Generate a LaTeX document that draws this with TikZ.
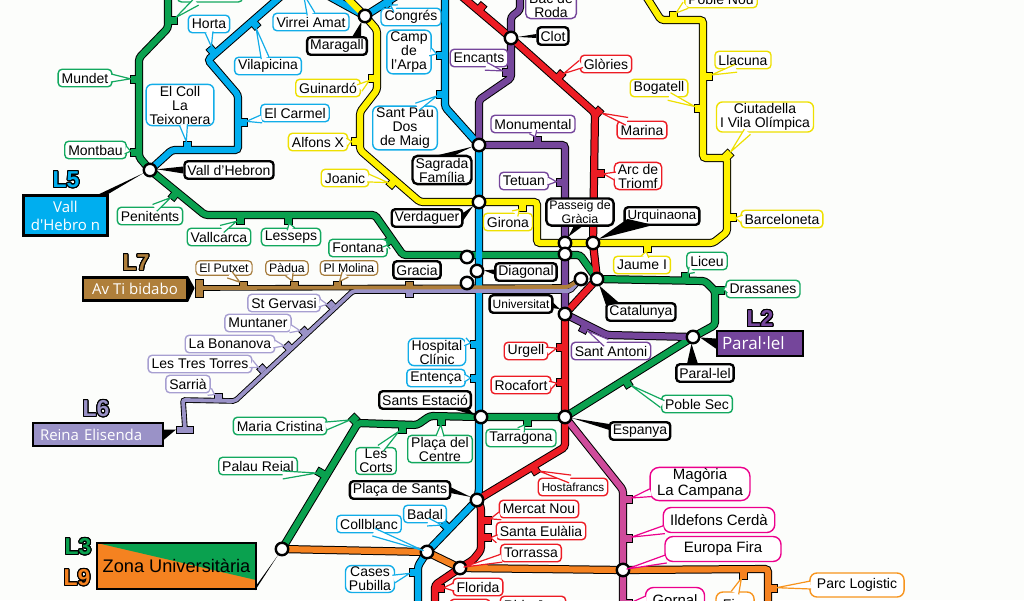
\documentclass[tikz,border=0pt]{standalone}
\usepackage{fontspec}
\usepackage{contour}
\usetikzlibrary{calc}
\setmainfont{Liberation Sans}
\newfontfamily\termfont{Open Sans}
\contourlength{1pt}
\contournumber{24}

\definecolor{paper}{HTML}{FCFDFB}
\definecolor{lthree}{HTML}{0AA14F}
\definecolor{lfive}{HTML}{00AEEF}
\definecolor{lfour}{HTML}{FFF200}
\definecolor{lone}{HTML}{ED1C24}
\definecolor{ltwo}{HTML}{75469B}
\definecolor{lsix}{HTML}{9A92C7}
\definecolor{lseven}{HTML}{AF7F3B}
\definecolor{lnine}{HTML}{F58220}
\definecolor{leight}{HTML}{CF4B9B}
\definecolor{rthree}{HTML}{13A85F}
\definecolor{rfive}{HTML}{12ADE8}
\definecolor{rfour}{HTML}{EEE000}
\definecolor{rsix}{HTML}{A79FD1}
\definecolor{rseven}{HTML}{A67C3D}
\definecolor{rnine}{HTML}{F7941D}
\definecolor{reight}{HTML}{EC008C}

\pgfdeclarelayer{casing}
\pgfdeclarelayer{ticks}
\pgfdeclarelayer{core}
\pgfsetlayers{casing,ticks,core,main}

\tikzset{
	stn/.style={draw, fill=white, line width=1.4pt, rounded corners=4pt, inner xsep=3.5pt, inner ysep=1.5pt,
		minimum height=17.5pt, align=center, font=\fontsize{14}{14}\selectfont},
	stnthree/.style={stn, draw=rthree},
	stnfive/.style={stn, draw=rfive},
	stnfour/.style={stn, draw=rfour},
	stnone/.style={stn, draw=lone},
	stntwo/.style={stn, draw=ltwo},
	stnsix/.style={stn, draw=rsix},
	stnseven/.style={stn, draw=rseven, line width=1.2pt, minimum height=14.5pt, font=\fontsize{12.3}{13}\selectfont},
	stnnine/.style={stn, draw=rnine, rounded corners=7pt, inner xsep=7pt, minimum height=24pt, font=\fontsize{14}{16}\selectfont},
	stneight/.style={stn, draw=reight, rounded corners=8pt, inner xsep=7pt, minimum height=25pt, font=\fontsize{15}{16}\selectfont},
	hub/.style={stn, draw=black, line width=2.4pt, rounded corners=3.5pt, inner xsep=3pt, inner ysep=2pt},
	term/.style={draw=black, line width=2.4pt, text=white, font=\termfont\fontsize{15}{18}\selectfont, align=center, inner sep=0pt},
	linename/.style={font=\fontsize{23}{24}\selectfont\bfseries},
	change/.style={circle, draw=black, fill=white, line width=2.4pt, minimum size=12.5pt, inner sep=0pt},
	tick/.style={rectangle, draw=black, line width=.8pt, minimum width=8pt, minimum height=9pt, inner sep=0pt},
	tickthin/.style={tick, minimum height=7pt},
	casing/.style={draw=black, line width=8.2pt, rounded corners=3pt},
	core/.style={line width=6.2pt, rounded corners=3pt},
	casingthin/.style={draw=black, line width=5.6pt, rounded corners=2pt},
	corethin/.style={line width=3.8pt, rounded corners=2pt},
}

% line body: black casing below, colour on top, ticks in between
\newcommand{\route}[2]{%
	\begin{pgfonlayer}{casing}\draw[casing] #2;\end{pgfonlayer}
	\begin{pgfonlayer}{core}\draw[core, draw=#1] #2;\end{pgfonlayer}}
\newcommand{\routethin}[2]{%
	\begin{pgfonlayer}{casing}\draw[casingthin] #2;\end{pgfonlayer}
	\begin{pgfonlayer}{core}\draw[corethin, draw=#1] #2;\end{pgfonlayer}}
% speech bubble tail: label, anchor, target, colour
\newcommand{\bubbletail}[4]{%
	\coordinate (tb) at ($(#1.#2)!1.5pt!(#1.center)$);
	\coordinate (tt) at ($(#3)!4pt!(tb)$);
	\fill[white] ($(tb)!4pt!90:(tt)$) -- (tt) -- ($(tb)!4pt!-90:(tt)$) -- cycle;
	\draw[#4, line width=1.2pt, line join=round] ($(tb)!4pt!90:(tt)$) -- (tt) -- ($(tb)!4pt!-90:(tt)$);}
% black wedge from a label to a change circle: anchor, two offsets, circle
\newcommand{\hubwedge}[4]{%
	\coordinate (wa) at ($(#1)+(#2)$);
	\coordinate (wb) at ($(#1)+(#3)$);
	\fill[black] (wa) -- ($(#4.center)!7pt!(wa)$) -- (wb) -- cycle;}

\begin{document}
\begin{tikzpicture}[x=1pt,y=-1pt]
	\useasboundingbox (0,0) rectangle (1024,600);
	\begin{pgfonlayer}{casing}
		\fill[paper] (0,0) rectangle (1024,600);
	\end{pgfonlayer}

	% change stations
	\draw (150,170) node [change] (vh) {};
	\draw (365,16) node [change] (mar) {};
	\draw (511,38) node [change] (clot) {};
	\draw (479,145) node [change] (sag) {};
	\draw (479,202) node [change] (ver) {};
	\draw (565,243) node [change] (pga) {};
	\draw (565,254) node [change] (pgb) {};
	\draw (593,243) node [change] (urq) {};
	\draw (467,257) node [change] (dga) {};
	\draw (477,271) node [change] (dgb) {};
	\draw (467,283) node [change] (dgc) {};
	\draw (597,279) node [change] (cat) {};
	\draw (581,279) node [change] (cab) {};
	\draw (565,314) node [change] (uni) {};
	\draw (693,337) node [change] (par) {};
	\draw (481,417) node [change] (sest) {};
	\draw (565,417) node [change] (esp) {};
	\draw (477,500) node [change] (psa) {};
	\draw (282,549) node [change] (zu) {};
	\draw (427,552) node [change] (col) {};
	\draw (460,568) node [change] (tor) {};
	\draw (623,570) node [change] (eur) {};

	% free line ends, off the page
	\coordinate (topthree) at (168,-10);
	\coordinate (topfivea) at (288,-10);
	\coordinate (topfiveb) at (325,-6);
	\coordinate (topfivec) at (398,-5);
	\coordinate (topfived) at (445,-10);
	\coordinate (topfour) at (341,-8);
	\coordinate (topfourb) at (642,-10);
	\coordinate (topone) at (459,-6);
	\coordinate (toptwo) at (520,-10);
	\coordinate (endfive) at (418,610);
	\coordinate (endone) at (435,610);
	\coordinate (endnine) at (768,610);
	\coordinate (endeight) at (623,610);
	\coordinate (virreitop) at (302,-10);

	% ticks
	\begin{pgfonlayer}{ticks}
		\draw (172.5,20) node [tick, fill=lthree, rotate=90] (tka) {};
		\draw (134.5,79) node [tick, fill=lthree, rotate=90] (tkb) {};
		\draw (134.5,152) node [tick, fill=lthree, rotate=90] (tkc) {};
		\draw (174,195.5) node [tick, fill=lthree, rotate=-39] (tkd) {};
		\draw (240,219.5) node [tick, fill=lthree] (tke) {};
		\draw (288,219.5) node [tick, fill=lthree] (tkf) {};
		\draw (388,241.5) node [tick, fill=lthree, rotate=-55] (tkg) {};
		\draw (685,276.5) node [tick, fill=lthree] (tkh) {};
		\draw (719.5,290) node [tick, fill=lthree, rotate=90] (tki) {};
		\draw (627.4,383.3) node [tick, fill=lthree, rotate=32] (tkj) {};
		\draw (527,421.5) node [tick, fill=lthree] (tkk) {};
		\draw (441,420.5) node [tick, fill=lthree] (tkl) {};
		\draw (402,428.5) node [tick, fill=lthree] (tkm) {};
		\draw (354,419) node [tick, fill=lthree, rotate=-45] (tkn) {};
		\draw (320.6,472.8) node [tick, fill=lthree, rotate=60] (tko) {};

		\draw (212,50.6) node [tick, fill=lfive, rotate=41] (tbb) {};
		\draw (255,24.4) node [tick, fill=lfive, rotate=41] (tbc) {};
		\draw (242.5,122) node [tick, fill=lfive, rotate=90] (tbd) {};
		\draw (187,145.5) node [tick, fill=lfive] (tbe) {};
		\draw (440.5,55) node [tick, fill=lfive, rotate=90] (tbf) {};
		\draw (440.5,94) node [tick, fill=lfive, rotate=90] (tbg) {};
		\draw (474.5,344) node [tick, fill=lfive, rotate=90] (tbh) {};
		\draw (474.5,378) node [tick, fill=lfive, rotate=90] (tbi) {};
		\draw (445.8,525.9) node [tick, fill=lfive, rotate=46] (tbj) {};
		\draw (413.5,572) node [tick, fill=lfive, rotate=90] (tbk) {};
		\draw (387,3) node [tick, fill=lfive, rotate=39] (tbl) {};

		\draw (372.5,78) node [tick, fill=lfour, rotate=90] (tya) {};
		\draw (355.5,141) node [tick, fill=lfour, rotate=90] (tyb) {};
		\draw (392,183.5) node [tick, fill=lfour, rotate=-41] (tyc) {};
		\draw (522,206.5) node [tick, fill=lfour] (tyd) {};
		\draw (647,247.5) node [tick, fill=lfour] (tye) {};
		\draw (731.5,217) node [tick, fill=lfour, rotate=90] (tyf) {};
		\draw (728,155) node [tick, fill=lfour, rotate=45] (tyg) {};
		\draw (698.5,108) node [tick, fill=lfour, rotate=90] (tyh) {};
		\draw (707.5,76) node [tick, fill=lfour, rotate=90] (tyi) {};
		\draw (673,15.5) node [tick, fill=lfour] (tyj) {};

		\draw (481,7.5) node [tick, fill=lone, rotate=-40] (tra) {};
		\draw (560,75.6) node [tick, fill=lone, rotate=-42] (trb) {};
		\draw (598,112) node [tick, fill=lone, rotate=-42] (trc) {};
		\draw (599.5,173) node [tick, fill=lone, rotate=90] (trd) {};
		\draw (560.5,347) node [tick, fill=lone, rotate=90] (tre) {};
		\draw (560.5,382) node [tick, fill=lone, rotate=90] (trf) {};
		\draw (535,470) node [tick, fill=lone, rotate=32] (trg) {};
		\draw (486.5,520) node [tick, fill=lone, rotate=90] (trh) {};
		\draw (486.5,537) node [tick, fill=lone, rotate=90] (tri) {};
		\draw (439.5,588) node [tick, fill=lone, rotate=90] (trj) {};

		\draw (506.5,72) node [tick, fill=ltwo, rotate=90] (tpa) {};
		\draw (537,140.5) node [tick, fill=ltwo] (tpb) {};
		\draw (560.5,182) node [tick, fill=ltwo, rotate=90] (tpc) {};
		\draw (584,328.5) node [tick, fill=ltwo, rotate=-27] (tpd) {};

		\draw (243,284.5) node [tickthin, fill=lseven] (tsa) {};
		\draw (294,284.5) node [tickthin, fill=lseven] (tsb) {};
		\draw (337,284.5) node [tickthin, fill=lseven] (tsc) {};
		\draw (409,284.5) node [tickthin, fill=lseven] (tsd) {};
		\draw (199,288) node [tick, minimum width=8pt, minimum height=18pt, fill=lseven] (tse) {};

		\draw (409,293.5) node [tickthin, fill=lsix] (txa) {};
		\draw (331,305) node [tickthin, fill=lsix, rotate=43] (txb) {};
		\draw (304,331.5) node [tickthin, fill=lsix, rotate=43] (txc) {};
		\draw (288,346.5) node [tickthin, fill=lsix, rotate=43] (txd) {};
		\draw (262,369) node [tickthin, fill=lsix, rotate=43] (txe) {};
		\draw (218,396.5) node [tickthin, fill=lsix] (txf) {};
		\draw (185,429.5) node [tick, minimum width=17pt, minimum height=7pt, fill=lsix] (txg) {};

		\draw (743,574.5) node [tick, fill=lnine] (toa) {};
		\draw (772.5,588) node [tick, fill=lnine, rotate=90] (tob) {};

		\draw (627.5,499) node [tick, fill=leight, rotate=90] (tma) {};
		\draw (627.5,538) node [tick, fill=leight, rotate=90] (tmb) {};
		\draw (627.5,603) node [tick, fill=leight, rotate=90] (tmc) {};
	\end{pgfonlayer}

	% lines
	\route{leight}{(esp.center) -- (623,490) -- (eur.center) -- (endeight)}
	\route{lthree}{(topthree) -- (168,28) -- (139,58) -- (139,157) -- (vh.center) -- (205,215) -- (375,215) -- (403,255) -- (580,255) -- (cat.center) -- (705,281) -- (715,291) -- (715,325) -- (par.center) -- (esp.center) -- (sest.center) -- (430,416) -- (417,425) -- (358,423) -- (zu.center)}
	\route{lfive}{(topfivea) -- (208,60) -- (238,95) -- (238,150) -- (172,150) -- (vh.center)}
	\route{lfive}{(topfiveb) -- (mar.center) -- (topfivec)}
	\route{lfive}{(topfived) -- (445,107) -- (sag.center) -- (ver.center) -- (479,490) -- (psa.center) -- (col.center) -- (418,566) -- (endfive)}
	\route{lfour}{(topfour) -- (mar.center) -- (377,30) -- (377,90) -- (360,112) -- (360,150) -- (420,202) -- (ver.center) -- (537,202) -- (537,243) -- (pga.center) -- (urq.center) -- (713,243) -- (727,232) -- (727,158) -- (703,158) -- (703,20) -- (661,20) -- (topfourb)}
	\route{lone}{(topone) -- (clot.center) -- (595,113) -- (urq.center) -- (cat.center) -- (uni.center) -- (esp.center) -- (565,447) -- (psa.center) -- (481,507) -- (481,550) -- (473,560) -- (tor.center) -- (435,585) -- (endone)}
	\route{ltwo}{(toptwo) -- (520,10) -- (511,17) -- (clot.center) -- (511,78) -- (479,100) -- (sag.center) -- (565,145) -- (pga.center) -- (pgb.center) -- (uni.center) -- (607,335) -- (par.center)}
	\routethin{lsix}{(txg.center) -- (183,400) -- (235,401) -- (353,291) -- (570,291) -- (cab.center)}
	\routethin{lseven}{(tse.center) -- (568,287) -- (cab.center)}
	\route{lnine}{(zu.center) -- (col.center) -- (tor.center) -- (eur.center) -- (768,569) -- (endnine)}

	% green labels
	\draw (210,-6) node [stnthree, minimum width=65pt, minimum height=16pt] (lvall) {};
	\bubbletail{lvall}{-150}{tka}{rthree}
	\draw (85,78) node [stnthree] (lmun) {Mundet};
	\bubbletail{lmun}{east}{tkb}{rthree}
	\draw (95.5,150) node [stnthree] (lmon) {Montbau};
	\bubbletail{lmon}{east}{tkc}{rthree}
	\draw (150,216) node [stnthree] (lpen) {Penitents};
	\bubbletail{lpen}{60}{tkd}{rthree}
	\draw (219,237) node [stnthree] (lvca) {Vallcarca};
	\bubbletail{lvca}{70}{tke}{rthree}
	\draw (291,237) node [stnthree] (lles) {Lesseps};
	\bubbletail{lles}{north}{tkf}{rthree}
	\draw (358,248) node [stnthree] (lfon) {Fontana};
	\bubbletail{lfon}{east}{tkg}{rthree}
	\draw (280,426) node [stnthree] (lmcr) {Maria Cristina};
	\bubbletail{lmcr}{east}{tkn}{rthree}
	\draw (258,466) node [stnthree] (lpal) {Palau Reial};
	\bubbletail{lpal}{-20}{tko}{rthree}
	\draw (376,461) node [stnthree] (lcor) {Les\\Corts};
	\bubbletail{lcor}{70}{tkm}{rthree}
	\draw (440,449) node [stnthree] (lcen) {Plaça del\\Centre};
	\bubbletail{lcen}{north}{tkl}{rthree}
	\draw (521,438) node [stnthree] (ltar) {Tarragona};
	\bubbletail{ltar}{north}{tkk}{rthree}
	\draw (697,404) node [stnthree] (lsec) {Poble Sec};
	\bubbletail{lsec}{west}{tkj}{rthree}
	\draw (707,261) node [stnthree] (llic) {Liceu};
	\bubbletail{llic}{-150}{tkh}{rthree}
	\draw (763,289) node [stnthree] (ldra) {Drassanes};
	\bubbletail{ldra}{west}{tki}{rthree}

	% blue labels
	\draw (209,24) node [stnfive] (lhor) {Horta};
	\bubbletail{lhor}{south}{tbb}{rfive}
	\draw (268,66) node [stnfive] (lvil) {Vilapicina};
	\bubbletail{lvil}{110}{tbc}{rfive}
	\draw (311,22) node [stnfive] (lvir) {Virrei Amat};
	\bubbletail{lvir}{north}{virreitop}{rfive}
	\draw (295,113) node [stnfive] (lcar) {El Carmel};
	\bubbletail{lcar}{-170}{tbd}{rfive}
	\draw (180,105) node [stnfive, rounded corners=6pt] (lcol) {El Coll\\La\\Teixonera};
	\bubbletail{lcol}{-80}{tbe}{rfive}
	\draw (411,17) node [stnfive] (lcon) {Congrés};
	\bubbletail{lcon}{150}{tbl}{rfive}
	\draw (409,52) node [stnfive, rounded corners=6pt] (larp) {Camp\\de\\l'Arpa};
	\bubbletail{larp}{east}{tbf}{rfive}
	\draw (405,128) node [stnfive, rounded corners=6pt] (lpau) {Sant Pau\\Dos\\de Maig};
	\bubbletail{lpau}{60}{tbg}{rfive}
	\draw (437,352) node [stnfive, rounded corners=6pt] (lhos) {Hospital\\Clínic};
	\bubbletail{lhos}{20}{tbh}{rfive}
	\draw (436,378) node [stnfive] (lent) {Entença};
	\bubbletail{lent}{east}{tbi}{rfive}
	\draw (369,524) node [stnfive] (lcbl) {Collblanc};
	\bubbletail{lcbl}{-60}{col}{rfive}
	\draw (425,514) node [stnfive] (lbad) {Badal};
	\bubbletail{lbad}{-70}{tbj}{rfive}
	\draw (370,579) node [stnfive, rounded corners=6pt] (lpub) {Cases\\Pubilla};
	\bubbletail{lpub}{east}{tbk}{rfive}

	% yellow labels
	\draw (328,88) node [stnfour] (lgui) {Guinardó};
	\bubbletail{lgui}{east}{tya}{rfour}
	\draw (318,142) node [stnfour] (lalf) {Alfons X};
	\bubbletail{lalf}{east}{tyb}{rfour}
	\draw (345,178) node [stnfour] (ljoa) {Joanic};
	\bubbletail{ljoa}{east}{tyc}{rfour}
	\draw (508,222) node [stnfour] (lgir) {Girona};
	\bubbletail{lgir}{50}{tyd}{rfour}
	\draw (642,265) node [stnfour] (ljau) {Jaume I};
	\bubbletail{ljau}{70}{tye}{rfour}
	\draw (782,219) node [stnfour] (lbar) {Barceloneta};
	\bubbletail{lbar}{west}{tyf}{rfour}
	\draw (765,117) node [stnfour, rounded corners=6pt] (lciu) {Ciutadella\\I Vila Olímpica};
	\bubbletail{lciu}{-140}{tyg}{rfour}
	\draw (659,88) node [stnfour] (lbog) {Bogatell};
	\bubbletail{lbog}{-40}{tyh}{rfour}
	\draw (743,60) node [stnfour] (llac) {Llacuna};
	\bubbletail{llac}{-130}{tyi}{rfour}
	\draw (721,-1) node [stnfour] (lpob) {Poble Nou};
	\bubbletail{lpob}{-170}{tyj}{rfour}

	% red labels
	\draw (606,64) node [stnone] (lglo) {Glòries};
	\bubbletail{lglo}{west}{trb}{lone}
	\draw (642,130) node [stnone] (lmar) {Marina};
	\bubbletail{lmar}{150}{trc}{lone}
	\draw (638,176) node [stnone, rounded corners=5pt] (larc) {Arc de\\Triomf};
	\bubbletail{larc}{west}{trd}{lone}
	\draw (526,351) node [stnone] (lurg) {Urgell};
	\bubbletail{lurg}{east}{tre}{lone}
	\draw (521,385) node [stnone] (lroc) {Rocafort};
	\bubbletail{lroc}{east}{trf}{lone}
	\draw (573,487) node [stnone, font=\fontsize{11.7}{14}\selectfont] (lhof) {Hostafrancs};
	\bubbletail{lhof}{110}{trg}{lone}
	\draw (539,509) node [stnone] (lmer) {Mercat Nou};
	\bubbletail{lmer}{-170}{trh}{lone}
	\draw (541,531) node [stnone] (lsan) {Santa Eulàlia};
	\bubbletail{lsan}{-170}{tri}{lone}
	\draw (531,553) node [stnone] (ltrr) {Torrassa};
	\bubbletail{ltrr}{-170}{tor}{lone}
	\draw (478,587) node [stnone] (lflo) {Florida};
	\bubbletail{lflo}{west}{trj}{lone}
	\draw (533,605) node [stnone] (lrbl) {Rbla Just};
	\draw (470,608) node [stnone, minimum width=40pt] (lcse) {};

	% purple labels
	\draw (551,5) node [stntwo, rounded corners=5pt] (lbac) {Bac de\\Roda};
	\draw (479,58) node [stntwo] (lenc) {Encants};
	\bubbletail{lenc}{-50}{tpa}{ltwo}
	\draw (533,124) node [stntwo] (lmnt) {Monumental};
	\bubbletail{lmnt}{south}{tpb}{ltwo}
	\draw (524,181) node [stntwo] (ltet) {Tetuan};
	\bubbletail{ltet}{east}{tpc}{ltwo}
	\draw (611,351) node [stntwo] (lant) {Sant Antoni};
	\bubbletail{lant}{120}{tpd}{ltwo}

	% L7 labels
	\draw (224,268) node [stnseven] (lput) {El Putxet};
	\bubbletail{lput}{-50}{tsa}{rseven}
	\draw (287,268) node [stnseven] (lpad) {Pàdua};
	\bubbletail{lpad}{-70}{tsb}{rseven}
	\draw (349,268) node [stnseven] (lmol) {Pl Molina};
	\bubbletail{lmol}{-120}{tsc}{rseven}

	% L6 labels
	\draw (284,303) node [stnsix] (lger) {St Gervasi};
	\bubbletail{lger}{east}{txb}{rsix}
	\draw (258,323) node [stnsix] (lmnr) {Muntaner};
	\bubbletail{lmnr}{-10}{txc}{rsix}
	\draw (230,344) node [stnsix] (lbon) {La Bonanova};
	\bubbletail{lbon}{east}{txd}{rsix}
	\draw (200,364) node [stnsix] (ltre) {Les Tres Torres};
	\bubbletail{ltre}{east}{txe}{rsix}
	\draw (188,384) node [stnsix] (lsar) {Sarrià};
	\bubbletail{lsar}{-20}{txf}{rsix}

	% orange and pink labels
	\draw (735,604) node [stnnine] (lfir) {Fira};
	\bubbletail{lfir}{north}{toa}{rnine}
	\draw (857,585) node [stnnine] (lpar) {Parc Logistic};
	\bubbletail{lpar}{west}{tob}{rnine}
	\draw (700,484) node [stneight, rounded corners=9pt] (lmag) {Magòria\\La Campana};
	\bubbletail{lmag}{-170}{tma}{reight}
	\draw (719,520) node [stneight] (lild) {Ildefons Cerdà};
	\bubbletail{lild}{-170}{tmb}{reight}
	\draw (723,549) node [stneight, minimum width=116pt] (leur) {Europa Fira};
	\bubbletail{leur}{-170}{eur}{reight}
	\draw (675,600) node [stneight] (lgor) {Gornal};
	\bubbletail{lgor}{west}{tmc}{reight}

	% hub labels
	\draw (229,170) node [hub] (lvh) {Vall d'Hebron};
	\hubwedge{lvh.west}{0,-3.5}{0,3.5}{vh}
	\draw (337,46) node [hub] (lmg) {Maragall};
	\hubwedge{lmg.north}{15,1}{24,1}{mar}
	\draw (553,36) node [hub] (lcl) {Clot};
	\hubwedge{lcl.west}{0,-2}{0,2}{clot}
	\draw (442,170) node [hub, rounded corners=5pt] (lsg) {Sagrada\\Família};
	\hubwedge{lsg.north}{-6,1}{12,1}{sag}
	\draw (427,218) node [hub] (lvd) {Verdaguer};
	\hubwedge{lvd.east}{-2,-4}{-2,5}{ver}
	\draw (580,212) node [hub, rounded corners=5pt, font=\fontsize{12.4}{14}\selectfont] (lpg) {Passeig de\\Gràcia};
	\hubwedge{lpg.south}{-6,-1}{3,-1}{pga}
	\draw (662,216) node [hub, font=\fontsize{13.3}{14}\selectfont] (lur) {Urquinaona};
	\hubwedge{lur.south west}{4,-7}{30,-1}{urq}
	\draw (417,270) node [hub] (lgr) {Gracia};
	\draw (526,272) node [hub] (ldg) {Diagonal};
	\hubwedge{ldg.west}{0,-2.5}{0,2.5}{dgb}
	\draw (521,304) node [hub, font=\fontsize{12}{14}\selectfont] (lun) {Universitat};
	\hubwedge{lun.east}{-1,-2}{-1,4}{uni}
	\draw (641,312) node [hub] (lct) {Catalunya};
	\hubwedge{lct.north west}{1,4}{14,1}{cat}
	\draw (705,373) node [hub] (lpr) {Paral-lel};
	\hubwedge{lpr.north}{-18,1}{-7,1}{par}
	\draw (425,400) node [hub] (lse) {Sants Estació};
	\hubwedge{lse.south east}{-20,-1}{-3,-1}{sest}
	\draw (640,431) node [hub] (les) {Espanya};
	\hubwedge{les.north west}{1,3}{1,9}{esp}
	\draw (400,490) node [hub] (lps) {Plaça de Sants};
	\hubwedge{lps.east}{-1,-3}{-1,3}{psa}

	% terminus boxes
	\draw (66,180) node [linename] (nfive) {\contour{black}{\textcolor{lfive}{L5}}};
	\draw (65.5,215.5) node [term, fill=lfive, minimum width=84pt, minimum height=40pt] (tvh) {Vall\\d'Hebro n};
	\hubwedge{tvh.north east}{-10,0}{-1,0}{vh}
	\draw (136,263) node [linename] (nseven) {\contour{black}{\textcolor{lseven}{L7}}};
	\draw (135,289) node [term, fill=lseven, minimum width=104pt, minimum height=23pt] (ttb) {Av Ti bidabo};
	\fill (ttb.north east) -- (tse.west) -- (ttb.south east) -- cycle;
	\draw (96,409) node [linename] (nsix) {\contour{black}{\textcolor{lsix}{L6}}};
	\draw (98,434.5) node [term, fill=lsix, minimum height=23pt, text width=116pt, inner xsep=7pt, align=left] (trs) {Reina Elisenda};
	\fill ($(trs.east)+(0,-5)$) -- (txg.west) -- ($(trs.east)+(0,5)$) -- cycle;
	\draw (760,319) node [linename] (ntwo) {\contour{black}{\textcolor{ltwo}{L2}}};
	\draw (760,343.5) node [term, fill=ltwo, minimum height=25pt, text width=76pt, inner xsep=5pt, align=left, font=\termfont\fontsize{17}{18}\selectfont] (tpr) {Paral·lel};
	\hubwedge{tpr.west}{0,-5}{0,5}{par}
	\draw (78,547) node [linename] (nthree) {\contour{black}{\textcolor{lthree}{L3}}};
	\draw (77,578) node [linename] (nnine) {\contour{black}{\textcolor{lnine}{L9}}};
	\draw (176.5,566) node [term, text=black, fill=lnine, minimum width=159pt, minimum height=46pt,
		font=\fontsize{18.2}{20}\selectfont,
		path picture={\fill[lthree] (path picture bounding box.north west) -- ($(path picture bounding box.south east)+(0,-9)$) -- (path picture bounding box.north east) -- cycle;}] (tzu) {Zona Universitària};
	\hubwedge{tzu.south east}{-2,0}{0,-6}{zu}
\end{tikzpicture}
\end{document}
